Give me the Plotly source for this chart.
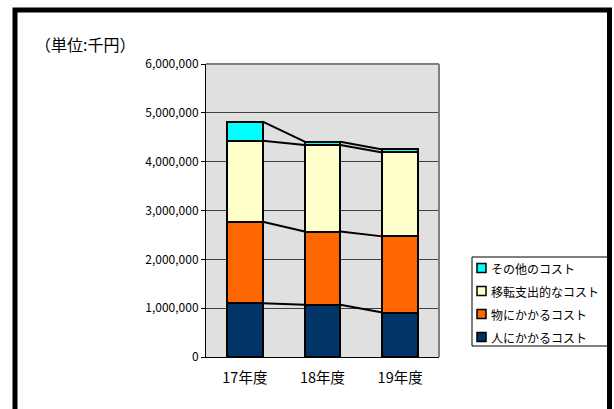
import plotly.graph_objects as go

categories = ["17年度", "18年度", "19年度"]
series_names = ["人にかかるコスト", "物にかかるコスト", "移転支出的なコスト", "その他のコスト"]
personnel = [1100000, 1070000, 910000]
materials = [1670000, 1500000, 1560000]
transfer = [1660000, 1770000, 1720000]
other = [390000, 70000, 60000]
colors = ["#003366", "#FF6600", "#FFFFCC", "#00FFFF"]
y_ticks = [0, 1000000, 2000000, 3000000, 4000000, 5000000, 6000000]

W, H = 614, 409
L, R, T, B = 206, 439, 64, 357
bar_w = 0.46

def px_x(p):
    return (p - L) / (R - L)

def px_y(p):
    return (B - p) / (B - T)

fig = go.Figure()
xs = list(range(len(categories)))
all_series = [personnel, materials, transfer, other]
for name, vals, col in zip(series_names, all_series, colors):
    fig.add_trace(go.Bar(
        x=xs, y=vals, name=name, width=bar_w,
        marker=dict(color=col, line=dict(color="black", width=2)),
        showlegend=False,
    ))

# series lines connecting stack tops
cum = [0] * len(categories)
for vals in all_series:
    cum = [c + v for c, v in zip(cum, vals)]
    for i in range(len(categories) - 1):
        fig.add_trace(go.Scatter(
            x=[xs[i] + bar_w / 2, xs[i + 1] - bar_w / 2],
            y=[cum[i], cum[i + 1]],
            mode="lines", line=dict(color="black", width=2),
            showlegend=False, hoverinfo="skip",
        ))

shapes = [
    dict(type="line", xref="paper", yref="paper",
         x0=0, x1=1, y0=1, y1=1, line=dict(color="#808080", width=2)),
    dict(type="line", xref="paper", yref="paper",
         x0=1, x1=1, y0=0, y1=1, line=dict(color="#808080", width=2)),
    # legend box
    dict(type="rect", xref="paper", yref="paper",
         x0=px_x(472), x1=px_x(610), y0=px_y(346), y1=px_y(257),
         line=dict(color="black", width=1), fillcolor="white"),
]
annotations = [dict(
    text="（単位:千円）", xref="paper", yref="paper",
    x=px_x(33), y=px_y(44), xanchor="left", yanchor="middle",
    showarrow=False, font=dict(size=16),
)]
legend_rows = [268, 291, 314, 337]
for row, name, col in zip(legend_rows, series_names[::-1], colors[::-1]):
    shapes.append(dict(type="rect", xref="paper", yref="paper",
                       x0=px_x(477), x1=px_x(486), y0=px_y(row + 4.5), y1=px_y(row - 4.5),
                       line=dict(color="black", width=1.5), fillcolor=col))
    annotations.append(dict(text=name, xref="paper", yref="paper",
                            x=px_x(489), y=px_y(row), xanchor="left", yanchor="middle",
                            showarrow=False, font=dict(size=12)))
# outer frame drawn last so it sits on top of the legend box
shapes.append(dict(type="rect", xref="paper", yref="paper",
                   x0=px_x(15), x1=px_x(609.5), y0=px_y(440), y1=px_y(10),
                   line=dict(color="black", width=5)))

fig.update_layout(
    width=W, height=H,
    margin=dict(l=L, r=W - R, t=T, b=H - B, autoexpand=False),
    barmode="stack",
    paper_bgcolor="white",
    plot_bgcolor="#E0E0E0",
    font=dict(family="Noto Sans CJK JP", size=12, color="black"),
    showlegend=False,
    hovermode=False,
    xaxis=dict(
        range=[-0.5, 2.5], tickvals=xs, ticktext=categories,
        showgrid=False, zeroline=False,
        showline=True, linecolor="black", linewidth=1,
        ticks="", tickfont=dict(size=14.5), ticklabelstandoff=8,
    ),
    yaxis=dict(
        range=[0, 6000000], tickvals=y_ticks, tickformat=",",
        showgrid=True, gridcolor="#404040", gridwidth=1,
        zeroline=False, showline=True, linecolor="black", linewidth=1,
        ticks="outside", ticklen=4, tickcolor="black",
        tickfont=dict(size=12),
    ),
    annotations=annotations,
    shapes=shapes,
)

fig.write_html("out.html",
               config={"displayModeBar": False},
               post_script="document.body.style.margin='0';document.body.style.overflow='hidden';")
